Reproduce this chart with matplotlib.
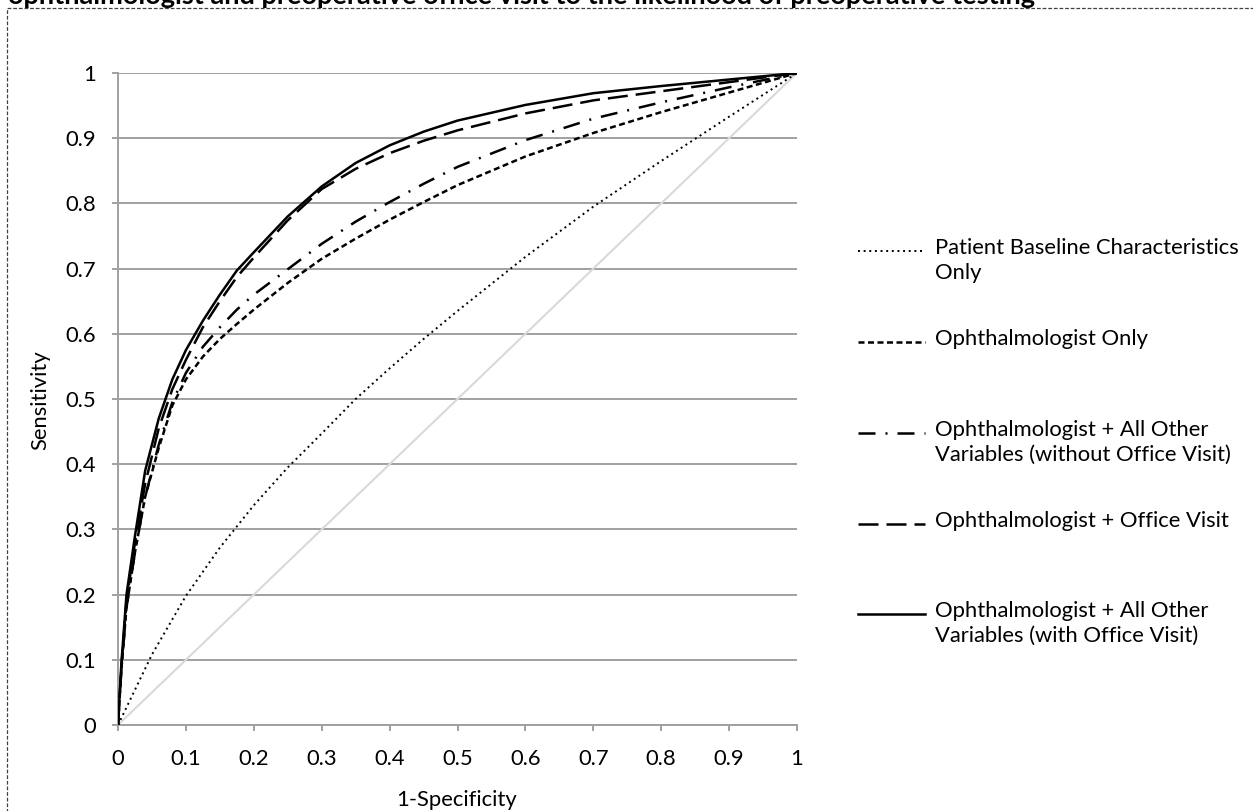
import matplotlib
matplotlib.use("Agg")
import matplotlib.pyplot as plt
from matplotlib.lines import Line2D
from matplotlib.patches import Rectangle

plt.rcParams['font.family'] = ['Lato', 'DejaVu Sans']

# ROC curves (1-specificity, sensitivity)
fpr_baseline = [0, 0.05, 0.1, 0.15, 0.2, 0.25, 0.3, 0.35, 0.4, 0.45, 0.5, 0.6, 0.7, 0.8, 0.9, 1.0]
tpr_baseline = [0, 0.108, 0.198, 0.272, 0.337, 0.395, 0.447, 0.5, 0.547, 0.592, 0.635, 0.718, 0.795, 0.865, 0.933, 1.0]

fpr_grid = [0, 0.005, 0.0125, 0.025, 0.04, 0.06, 0.08, 0.1, 0.125, 0.15, 0.175, 0.2,
            0.25, 0.3, 0.35, 0.4, 0.45, 0.5, 0.6, 0.7, 0.8, 0.9, 1.0]
tpr_ophth = [0, 0.085, 0.18, 0.265, 0.35, 0.425, 0.49, 0.53, 0.565, 0.592, 0.615, 0.637,
             0.678, 0.715, 0.746, 0.775, 0.802, 0.828, 0.872, 0.908, 0.94, 0.97, 1.0]
tpr_all_no_visit = [0, 0.085, 0.18, 0.265, 0.35, 0.43, 0.495, 0.54, 0.58, 0.61, 0.637, 0.66,
                    0.699, 0.738, 0.772, 0.802, 0.83, 0.856, 0.897, 0.93, 0.955, 0.978, 1.0]
tpr_ophth_visit = [0, 0.09, 0.19, 0.28, 0.37, 0.455, 0.515, 0.56, 0.61, 0.65, 0.687, 0.717,
                   0.774, 0.822, 0.853, 0.877, 0.896, 0.912, 0.938, 0.958, 0.972, 0.986, 1.0]
tpr_all_visit = [0, 0.095, 0.2, 0.29, 0.39, 0.47, 0.53, 0.575, 0.62, 0.66, 0.697, 0.725,
                 0.78, 0.826, 0.862, 0.889, 0.91, 0.927, 0.951, 0.969, 0.98, 0.99, 1.0]

ref_line = [0, 1]

labels = ["Patient Baseline Characteristics\nOnly",
          "Ophthalmologist Only",
          "Ophthalmologist + All Other\nVariables (without Office Visit)",
          "Ophthalmologist + Office Visit",
          "Ophthalmologist + All Other\nVariables (with Office Visit)"]

W, H = 1253, 811
fig = plt.figure(figsize=(W / 100, H / 100), dpi=100)
ax = fig.add_axes([118 / W, 1 - 725 / H, 679 / W, 652 / H])

grid_c = '#a0a0a0'
styles = [
    dict(lw=1.4, dashes=(1, 1.9)),
    dict(lw=1.8, dashes=(2.4, 1.4)),
    dict(lw=1.8, dashes=(6.8, 4, 0.8, 4)),
    dict(lw=1.8, dashes=(8, 3.2)),
    dict(lw=1.8, ls='-'),
]

ax.plot(ref_line, ref_line, color='#d9d9d9', lw=1.5, zorder=2)
series = [(fpr_baseline, tpr_baseline), (fpr_grid, tpr_ophth), (fpr_grid, tpr_all_no_visit),
          (fpr_grid, tpr_ophth_visit), (fpr_grid, tpr_all_visit)]
for (xs, ys), st in zip(series, styles):
    ax.plot(xs, ys, color='black', zorder=3, **st)

ax.set_xlim(0, 1)
ax.set_ylim(0, 1)
ticks = [i / 10 for i in range(11)]
tick_labels = ['0'] + ['0.%d' % i for i in range(1, 10)] + ['1']
ax.set_xticks(ticks)
ax.set_xticklabels(tick_labels)
ax.set_yticks(ticks)
ax.set_yticklabels(tick_labels)
ax.yaxis.grid(True, color=grid_c, lw=1.4)
ax.set_axisbelow(True)
for s in ['top', 'right']:
    ax.spines[s].set_visible(False)
for s in ['left', 'bottom']:
    ax.spines[s].set_color(grid_c)
    ax.spines[s].set_linewidth(1.4)
ax.tick_params(axis='x', length=4.5, width=1.4, color=grid_c, pad=13, labelsize=15.8)
ax.tick_params(axis='y', length=4.5, width=1.4, color=grid_c, pad=11, labelsize=15.8)

fig.text(457 / W, 1 - 800 / H, '1-Specificity', ha='center', va='center', fontsize=15.8)
fig.text(40 / W, 1 - 400 / H, 'Sensitivity', ha='center', va='center', rotation=90, fontsize=15.8)

# legend, drawn by hand so the handle sits on the first text line
leg_y = [251, 342, 433, 524, 614]
for y, st, lab in zip(leg_y, styles, labels):
    fy = 1 - y / H
    fig.add_artist(Line2D([858 / W, 925 / W], [fy, fy], color='black', **st))
    fig.text(935 / W, 1 - (y - 13) / H, lab, ha='left', va='top', fontsize=15.8, linespacing=1.3)

# dashed frame round the chart area and the cut-off title
fig.add_artist(Rectangle((7 / W, -0.2), 2, 1.2 - 8 / H, transform=fig.transFigure,
                         fill=False, ec='#404040', lw=0.9, ls=(0, (3, 1.5))))
fig.text(8 / W, 1 - 4 / H, 'ophthalmologist and preoperative office visit to the likelihood of preoperative testing',
         ha='left', va='baseline', fontsize=19.5, fontweight='bold')

fig.savefig('out.png', dpi=100)
